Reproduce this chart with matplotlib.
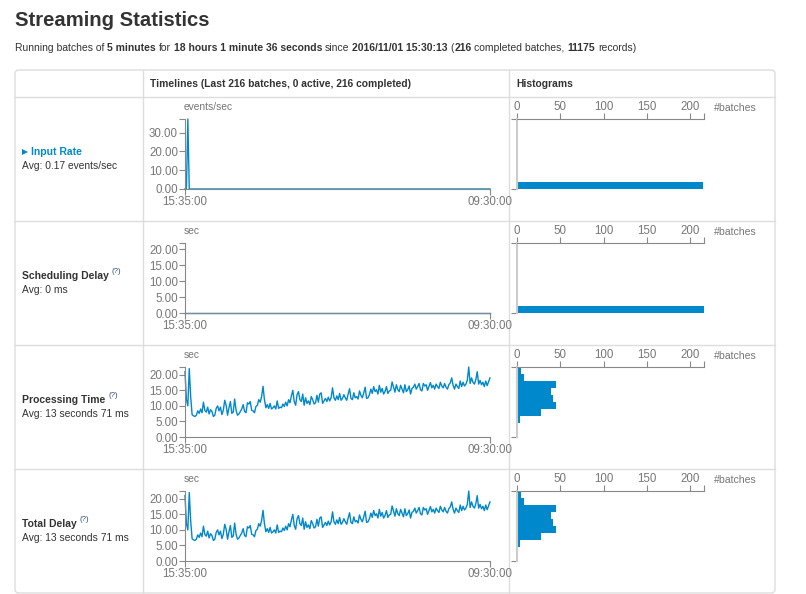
import numpy as np
import matplotlib.pyplot as plt
from matplotlib.patches import FancyBboxPatch

plt.rcParams['font.family'] = ['Liberation Sans', 'DejaVu Sans']

W, H = 806, 594
BLUE = '#0088cc'
TXT = '#333333'
AX = '#888888'
TICKTXT = '#777777'

# ---- data ----
time_labels = ['15:35:00', '09:30:00']
n_batches = 216

input_rate = [0.0, 0.0, 37.2] + [0.0] * 213
scheduling_delay = [0.0] * 216
processing_time = [
    21.0, 12.0, 10.0, 22.0, 13.0, 7.2, 6.8, 6.6, 7.0, 8.4, 7.6, 9.0,
    7.8, 11.2, 8.5, 8.0, 9.6, 7.4, 8.8, 8.2, 6.6, 7.0, 9.2, 10.0,
    8.4, 9.6, 7.2, 8.6, 11.8, 10.2, 7.0, 9.4, 11.4, 7.6, 8.0, 12.2,
    8.6, 7.0, 7.4, 8.2, 9.0, 10.4, 8.2, 7.8, 11.0, 10.6, 11.4, 8.6,
    8.4, 7.8, 9.8, 10.2, 12.0, 11.2, 13.0, 16.3, 12.0, 9.4, 10.4, 9.2,
    10.8, 9.0, 9.4, 10.0, 9.0, 11.6, 9.2, 9.6, 9.4, 10.6, 9.8, 11.2,
    10.0, 12.0, 11.0, 13.2, 15.0, 11.4, 10.2, 13.6, 14.6, 12.0, 11.4, 13.8,
    10.2, 12.6, 10.8, 11.6, 10.4, 13.0, 12.0, 10.6, 11.0, 13.4, 11.2, 13.8,
    14.2, 10.8, 11.6, 12.4, 11.4, 12.8, 11.6, 12.6, 15.8, 12.6, 11.8, 13.2,
    12.0, 14.0, 11.8, 12.4, 13.6, 12.6, 11.8, 13.8, 15.5, 12.4, 12.0, 14.2,
    12.6, 13.0, 12.2, 14.8, 13.4, 12.6, 14.2, 16.0, 12.4, 12.6, 13.6, 15.4,
    14.0, 16.2, 14.6, 15.2, 13.8, 16.6, 14.4, 15.6, 13.8, 14.6, 16.2, 14.0,
    14.8, 15.0, 17.7, 16.0, 14.4, 16.8, 15.2, 14.6, 16.6, 15.4, 14.2, 16.8,
    14.6, 15.2, 16.4, 13.8, 15.6, 16.0, 17.0, 15.4, 16.2, 17.2, 15.2, 14.8,
    17.2, 16.4, 16.8, 15.0, 16.2, 17.5, 15.8, 16.6, 15.4, 17.0, 16.2, 15.6,
    17.6, 16.4, 15.8, 17.2, 16.0, 15.4, 16.8, 17.4, 19.0, 16.6, 15.4, 17.0,
    16.2, 15.6, 18.0, 16.2, 17.6, 16.4, 17.0, 18.2, 22.5, 17.2, 19.0, 17.6,
    17.0, 18.4, 21.0, 17.0, 18.2, 16.8, 17.6, 16.2, 18.0, 16.5, 17.8, 19.0,
]
total_delay = list(processing_time)

# histogram counts (10 bins from 0 to the axis max)
input_rate_hist = [215, 0, 0, 0, 0, 0, 0, 0, 0, 1]
scheduling_hist = [216, 0, 0, 0, 0, 0, 0, 0, 0, 0]
processing_hist = [0, 0, 4, 28, 45, 42, 39, 45, 8, 5]
total_delay_hist = [0, 0, 4, 28, 45, 42, 39, 45, 8, 5]

row_names = ['Input Rate', 'Scheduling Delay', 'Processing Time', 'Total Delay']
row_avgs = ['Avg: 0.17 events/sec', 'Avg: 0 ms', 'Avg: 13 seconds 71 ms', 'Avg: 13 seconds 71 ms']
row_units = ['events/sec', 'sec', 'sec', 'sec']
row_ymax = [37.2, 22.0, 22.5, 22.5]
row_yticks = [[0, 10, 20, 30], [0, 5, 10, 15, 20], [0, 5, 10, 15, 20], [0, 5, 10, 15, 20]]
hist_ticks = [0, 50, 100, 150, 200]

subtitle_parts = [
    ('Running batches of ', False), ('5 minutes', True), (' for ', False),
    ('18 hours 1 minute 36 seconds', True), (' since ', False),
    ('2016/11/01 15:30:13', True), (' (', False), ('216', True),
    (' completed batches, ', False), ('11175', True), (' records)', False),
]

series = [input_rate, scheduling_delay, processing_time, total_delay]
hists = [input_rate_hist, scheduling_hist, processing_hist, total_delay_hist]
assert all(len(s) == n_batches for s in series)

fig = plt.figure(figsize=(W / 100, H / 100), dpi=100)
bg = fig.add_axes([0, 0, 1, 1])
bg.set_xlim(0, W)
bg.set_ylim(H, 0)
bg.axis('off')
renderer = fig.canvas.get_renderer()


def px_axes(x0, y0, x1, y1):
    return fig.add_axes([x0 / W, 1 - y1 / H, (x1 - x0) / W, (y1 - y0) / H])


# title + subtitle
bg.text(15, 20, 'Streaming Statistics', fontsize=14.6, fontweight='bold',
        color=TXT, va='center', ha='left')
sub_fs = 7.45
space_w = 0.278 * sub_fs * 100 / 72
x = 15
for s, bold in subtitle_parts:
    lead = len(s) - len(s.lstrip(' '))
    trail = len(s) - len(s.rstrip(' '))
    x += lead * space_w
    t = bg.text(x, 48, s.strip(), fontsize=sub_fs, color=TXT, va='center', ha='left',
                fontweight='bold' if bold else 'normal')
    x += t.get_window_extent(renderer=renderer).width + trail * space_w

# table frame
bg.add_patch(FancyBboxPatch((15, 70), 760, 523, boxstyle='round,pad=0,rounding_size=4',
                            ec='#dddddd', fc='none', lw=1))
for yy in [97, 221, 345, 469]:
    bg.plot([15, 775], [yy, yy], color='#dddddd', lw=1)
for xx in [143, 509]:
    bg.plot([xx, xx], [70, 593], color='#dddddd', lw=1)
bg.text(150, 84, 'Timelines (Last 216 batches, 0 active, 216 completed)', fontsize=7.4,
        fontweight='bold', color=TXT, va='center')
bg.text(516, 84, 'Histograms', fontsize=7.4, fontweight='bold', color=TXT, va='center')

row_tops = [97, 221, 345, 469]
for i in range(4):
    top = row_tops[i]
    ctr = top + 62
    ymax = row_ymax[i]
    # left column labels
    if i == 0:
        bg.plot(24.5, ctr - 7, marker='>', ms=4.5, color=BLUE, mew=0)
        bg.text(31, ctr - 7, row_names[i], fontsize=7.5, fontweight='bold', color=BLUE, va='center')
    else:
        t = bg.text(22, ctr - 7, row_names[i], fontsize=7.5, fontweight='bold', color=TXT, va='center')
        w = t.get_window_extent(renderer=renderer).width
        bg.text(22 + w + 3, ctr - 11.5, '(?)', fontsize=5.6, color='#2a4a7a', va='center')
    bg.text(22, ctr + 7, row_avgs[i], fontsize=7.4, color=TXT, va='center')

    ay0, ay1 = top + 22, top + 92
    # timeline
    ax = px_axes(185, ay0, 490, ay1)
    ax.set_facecolor('none')
    ax.plot(range(n_batches), series[i], color=BLUE, lw=1.0, clip_on=False)
    ax.set_xlim(0, n_batches - 1)
    ax.set_ylim(0, ymax)
    ax.set_xticks([0, n_batches - 1])
    ax.set_xticklabels(time_labels)
    ax.set_yticks(row_yticks[i])
    ax.set_yticklabels(['%.2f' % v for v in row_yticks[i]])
    ax.set_yticks([ymax], minor=True)
    for sp in ['top', 'right']:
        ax.spines[sp].set_visible(False)
    for sp in ['left', 'bottom']:
        ax.spines[sp].set_color(AX)
        ax.spines[sp].set_linewidth(0.8)
    ax.tick_params(which='both', length=4, width=0.8, color=AX, labelcolor=TICKTXT,
                   labelsize=8.3, pad=1)
    bg.text(184, top + 10, row_units[i], fontsize=7.4, color=TICKTXT, va='center')

    # histogram
    hx = px_axes(517, ay0, 517 + 0.866 * n_batches, ay1)
    hx.set_facecolor('none')
    edges = np.linspace(0, ymax, len(hists[i]) + 1)
    hx.barh(edges[:-1], hists[i], height=np.diff(edges), align='edge', color=BLUE, lw=0)
    hx.set_xlim(0, n_batches)
    hx.set_ylim(0, ymax)
    hx.xaxis.tick_top()
    hx.set_xticks(hist_ticks)
    hx.set_xticks([n_batches], minor=True)
    hx.set_yticks([0, ymax])
    hx.set_yticklabels([])
    for sp in ['bottom', 'right']:
        hx.spines[sp].set_visible(False)
    hx.spines['top'].set_color(AX)
    hx.spines['top'].set_linewidth(0.8)
    hx.spines['left'].set_color('#cccccc')
    hx.spines['left'].set_linewidth(1.5)
    hx.tick_params(which='both', length=4, width=0.8, color=AX, labelcolor=TICKTXT,
                   labelsize=8.3, pad=0.5)
    bg.text(714, top + 11, '#batches', fontsize=7.6, color=TICKTXT, va='center')

fig.savefig('out.png', dpi=100, facecolor='white')
